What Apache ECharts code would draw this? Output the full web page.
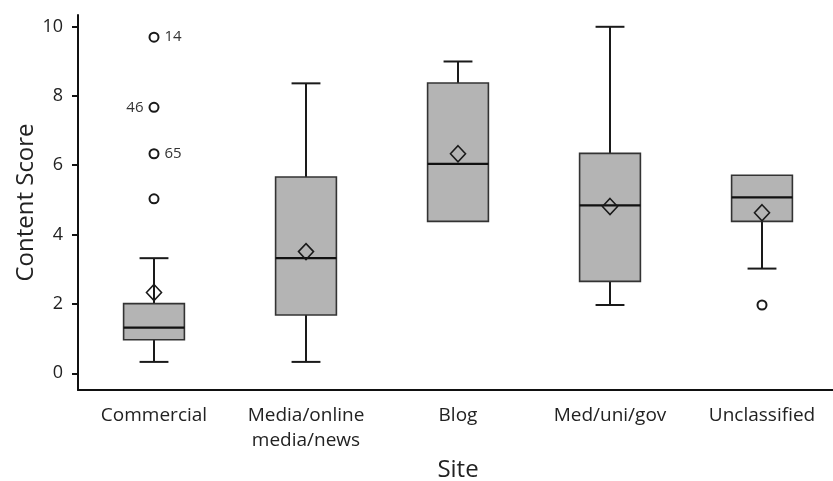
<!DOCTYPE html>
<html>
<head>
<meta charset="utf-8">
<script src="https://cdn.jsdelivr.net/npm/echarts@6/dist/echarts.min.js"></script>
<style>
html,body{margin:0;padding:0;background:#fff;}
#chart{width:833px;height:481px;}
</style>
</head>
<body>
<div id="chart"></div>
<script>
// ---- data ----
const categories = ['Commercial', 'Media/online\nmedia/news', 'Blog', 'Med/uni/gov', 'Unclassified'];
const whiskerLow  = [0.33, 0.33, 4.38, 1.97, 3.02];
const q1Values    = [0.97, 1.68, 4.38, 2.65, 4.38];
const medians     = [1.32, 3.32, 6.04, 4.84, 5.07];
const q3Values    = [2.01, 5.66, 8.37, 6.34, 5.71];
const whiskerHigh = [3.32, 8.36, 8.99, 9.99, 5.71];
const means       = [2.33, 3.51, 6.33, 4.81, 4.63];
const outlierCat    = [0, 0, 0, 0, 4];
const outlierValues = [9.69, 7.67, 6.33, 5.03, 1.97];
const outlierLabels = ['14', '46', '65', '', ''];
const outlierLabelSide = ['right', 'left', 'right', 'right', 'right'];
const yTicks = [0, 2, 4, 6, 8, 10];

const FONT = '"Open Sans", "Noto Sans", sans-serif';

const boxData = categories.map((c, i) => [i, whiskerLow[i], q1Values[i], medians[i], q3Values[i], whiskerHigh[i]]);
const meanData = categories.map((c, i) => [i, means[i]]);
const outlierData = outlierValues.map((v, i) => ({
  value: [outlierCat[i], v],
  label: {
    show: outlierLabels[i] !== '',
    formatter: outlierLabels[i],
    position: outlierLabelSide[i]
  }
}));

function renderBox(params, api) {
  const idx = api.value(0);
  const low = api.coord([idx, api.value(1)]);
  const q1 = api.coord([idx, api.value(2)]);
  const med = api.coord([idx, api.value(3)]);
  const q3 = api.coord([idx, api.value(4)]);
  const high = api.coord([idx, api.value(5)]);
  const band = api.size([1, 0])[0];
  const hw = band * 0.2;
  const cw = band * 0.095;
  const x = q1[0];
  const lineStyle = { stroke: '#1a1a1a', lineWidth: 2, fill: null };
  const children = [];
  if (high[1] < q3[1] - 0.5) {
    children.push({ type: 'line', shape: { x1: x, y1: q3[1], x2: x, y2: high[1] }, style: lineStyle });
    children.push({ type: 'line', shape: { x1: x - cw, y1: high[1], x2: x + cw, y2: high[1] }, style: lineStyle });
  }
  if (low[1] > q1[1] + 0.5) {
    children.push({ type: 'line', shape: { x1: x, y1: q1[1], x2: x, y2: low[1] }, style: lineStyle });
    children.push({ type: 'line', shape: { x1: x - cw, y1: low[1], x2: x + cw, y2: low[1] }, style: lineStyle });
  }
  children.push({
    type: 'rect',
    shape: { x: x - hw, y: q3[1], width: hw * 2, height: q1[1] - q3[1] },
    style: { fill: '#b4b4b4', stroke: '#333', lineWidth: 1.6 }
  });
  children.push({ type: 'line', shape: { x1: x - hw, y1: med[1], x2: x + hw, y2: med[1] }, style: { stroke: '#111', lineWidth: 2.2 } });
  return { type: 'group', children: children };
}

const chart = echarts.init(document.getElementById('chart'), null, { renderer: 'canvas' });
chart.setOption({
  animation: false,
  backgroundColor: '#fff',
  grid: { left: 78, top: 15, width: 760, height: 375, containLabel: false, outerBoundsMode: 'none' },
  xAxis: {
    type: 'category',
    data: categories,
    boundaryGap: true,
    name: 'Site',
    nameLocation: 'middle',
    nameGap: 60,
    nameTextStyle: { fontFamily: FONT, fontSize: 24, color: '#222' },
    axisLine: { onZero: false, lineStyle: { color: '#111', width: 2 } },
    axisTick: { alignWithLabel: true, length: 6, lineStyle: { color: '#111', width: 2 } },
    axisLabel: { fontFamily: FONT, fontSize: 19, color: '#222', lineHeight: 25, margin: 13, interval: 0 },
    splitLine: { show: false }
  },
  yAxis: {
    type: 'value',
    min: -0.48,
    max: 10.33,
    name: 'Content Score',
    nameLocation: 'middle',
    nameGap: 40,
    nameMoveOverlap: false,
    nameRotate: 90,
    nameTextStyle: { fontFamily: FONT, fontSize: 24, color: '#222' },
    axisLine: { show: true, onZero: false, lineStyle: { color: '#111', width: 2 } },
    axisTick: { show: true, length: 6, customValues: yTicks, lineStyle: { color: '#111', width: 2 } },
    axisLabel: { fontFamily: FONT, fontSize: 18, color: '#222', margin: 15, customValues: yTicks },
    splitLine: { show: false }
  },
  series: [
    {
      type: 'custom',
      renderItem: renderBox,
      data: boxData,
      encode: { x: 0, y: [1, 2, 3, 4, 5] },
      z: 2
    },
    {
      type: 'scatter',
      data: meanData,
      symbol: 'diamond',
      symbolSize: [15, 16],
      itemStyle: { color: 'rgba(0,0,0,0)', borderColor: '#1a1a1a', borderWidth: 1.6, opacity: 1 },
      z: 3
    },
    {
      type: 'scatter',
      data: outlierData,
      symbol: 'circle',
      symbolSize: 9,
      itemStyle: { color: '#fff', borderColor: '#1a1a1a', borderWidth: 2, opacity: 1 },
      label: { fontFamily: FONT, fontSize: 15, color: '#333', distance: 5 },
      z: 3
    }
  ]
});
</script>
</body>
</html>
